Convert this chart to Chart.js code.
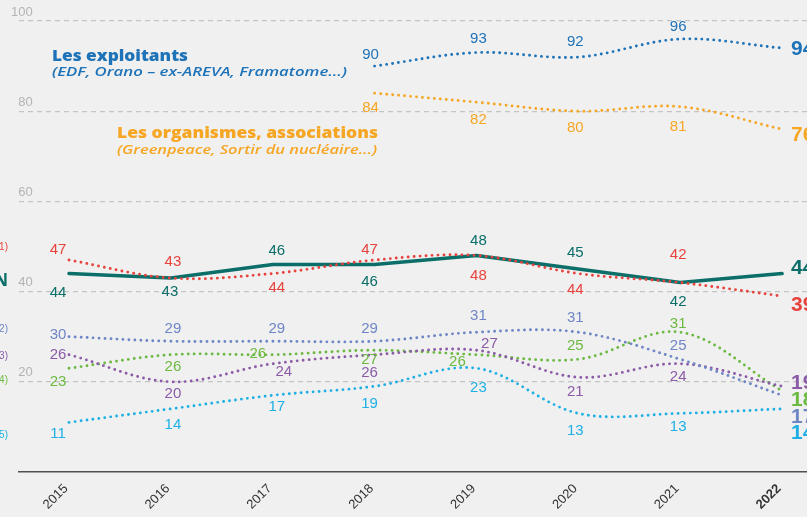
<!DOCTYPE html>
<html><head><meta charset="utf-8">
<script src="https://cdn.jsdelivr.net/npm/chart.js@4.4.0/dist/chart.umd.min.js"></script>
<style>html,body{margin:0;padding:0;background:#f0f0f0;}canvas{display:block;}</style>
</head><body>
<canvas id="c" width="807" height="517"></canvas>
<script>
// ---- data ----
const years = [2015, 2016, 2017, 2018, 2019, 2020, 2021, 2022];
const yTicks = [20, 40, 60, 80, 100];
const exploitants = [null, null, null, 90, 93, 92, 96, 94];
const organismes  = [null, null, null, 84, 82, 80, 81, 76];
const ensemble    = [44, 43, 46, 46, 48, 45, 42, 44];
const serie1      = [47, 43, 44, 47, 48, 44, 42, 39];
const serie2      = [30, 29, 29, 29, 31, 31, 25, 17];
const serie3      = [26, 20, 24, 26, 27, 21, 24, 19];
const serie4      = [23, 26, 26, 27, 26, 25, 31, 18];
const serie5      = [11, 14, 17, 19, 23, 13, 13, 14];

// ---- label placement (dx, dy from the point; last = end label) ----
const exploitantsLbl = [null, null, null, [-4, -11], [2, -14], [-3, -15], [-2, -12], [9, 1.5]];
const organismesLbl  = [null, null, null, [-4, 15], [2, 18], [-3, 17], [-2, 20], [9, 6]];
const ensembleLbl = [[-11, 19], [-1, 14], [4, -14], [-5, 17], [2, -15], [-3, -16], [-2, 19], [9, -5]];
const serie1Lbl   = [[-11, -10], [2, -16], [4, 14], [-5, -10], [2, 20], [-3, 16], [-2, -28], [9, 9]];
const serie2Lbl   = [[-11, -2], [2, -12], [4, -12], [-5, -12], [2, -16], [-3, -14], [-2, -13], [9, 22]];
const serie3Lbl   = [[-11, 0], [2, 12], [11, 8], [-5, 18], [13, -6], [-3, 15], [-2, 13], [9, -3]];
const serie4Lbl   = [[-11, 14], [2, 12], [-15, -1], [-5, 10], [-19, 7], [-3, -13], [-2, -8], [9, 9]];
const serie5Lbl   = [[-11, 11], [2, 16], [4, 12], [-5, 18], [2, 20], [-3, 17], [-2, 13], [9, 24]];

const C = {
  blue: '#1d72b8', orange: '#f6a623', teal: '#0b6e69', red: '#e8423c',
  lav: '#6f86c6', purple: '#8b5ba7', green: '#6cb942', cyan: '#1eb0e5'
};

function pts(arr) { return years.map((y, i) => ({ x: y, y: arr[i] })); }
function ds(label, arr, color, lbl, solid, order) {
  return {
    label, data: pts(arr), raw: arr, borderColor: color, labelOffsets: lbl,
    borderWidth: solid ? 3.6 : 2.9,
    borderDash: solid ? [] : [0, 6],
    borderCapStyle: 'round', borderJoinStyle: 'round',
    tension: solid ? 0 : 0.35,
    pointRadius: 0, pointHoverRadius: 0, fill: false, order
  };
}

const bgPlugin = {
  id: 'bg',
  beforeDraw(chart) {
    const c = chart.ctx; c.save(); c.fillStyle = '#f0f0f0';
    c.fillRect(0, 0, chart.width, chart.height); c.restore();
  }
};

const labelPlugin = {
  id: 'valueLabels',
  afterDatasetsDraw(chart) {
    const c = chart.ctx;
    chart.data.datasets.forEach((d, di) => {
      const meta = chart.getDatasetMeta(di);
      d.raw.forEach((v, i) => {
        if (v == null) return;
        const p = meta.data[i];
        const [dx, dy] = d.labelOffsets[i];
        const last = i === d.raw.length - 1;
        c.save();
        c.fillStyle = d.borderColor;
        c.textBaseline = 'middle';
        if (last) { c.font = 'bold 21px "Liberation Sans", Arial, sans-serif'; c.textAlign = 'left'; }
        else { c.font = '15px "Liberation Sans", Arial, sans-serif'; c.textAlign = 'center'; }
        c.fillText(String(v), p.x + dx, p.y + dy);
        c.restore();
      });
    });
  }
};

function fitText(c, text, x, y, width, font) {
  c.save();
  c.font = font;
  const w = c.measureText(text).width;
  c.translate(x, y);
  c.scale(width / w, 1);
  c.fillText(text, 0, 0);
  c.restore();
}

const textPlugin = {
  id: 'texts',
  afterDraw(chart) {
    const c = chart.ctx;
    c.save();
    c.textBaseline = 'alphabetic'; c.textAlign = 'left';
    c.fillStyle = C.blue;
    fitText(c, 'Les exploitants', 52, 61, 136, '800 15px "Open Sans", sans-serif');
    fitText(c, '(EDF, Orano \u2013 ex-AREVA, Framatome...)', 52, 75.5, 295, 'italic 600 13px "Open Sans", sans-serif');
    c.fillStyle = C.orange;
    fitText(c, 'Les organismes, associations', 117, 138, 261, '800 15px "Open Sans", sans-serif');
    fitText(c, '(Greenpeace, Sortir du nucl\u00e9aire...)', 117, 153.5, 260, 'italic 600 13px "Open Sans", sans-serif');
    // cut-off side labels
    c.textAlign = 'right'; c.textBaseline = 'middle';
    c.font = '10px "Liberation Sans", sans-serif';
    c.fillStyle = C.red; c.fillText('(1)', 8, 247);
    c.fillStyle = C.lav; c.fillText('(2)', 8, 329);
    c.fillStyle = C.purple; c.fillText('(3)', 8, 356);
    c.fillStyle = C.green; c.fillText('(4)', 8, 380);
    c.fillStyle = C.cyan; c.fillText('(5)', 8, 435);
    c.font = 'bold 17px "Open Sans", sans-serif';
    c.fillStyle = C.teal; c.fillText('POPULATION', 8, 281);
    c.restore();
  }
};

new Chart(document.getElementById('c'), {
  type: 'line',
  data: {
    datasets: [
      ds('Les exploitants', exploitants, C.blue, exploitantsLbl, false, 1),
      ds('Les organismes, associations', organismes, C.orange, organismesLbl, false, 2),
      ds('(1)', serie1, C.red, serie1Lbl, false, 3),
      ds('Ensemble', ensemble, C.teal, ensembleLbl, true, 4),
      ds('(2)', serie2, C.lav, serie2Lbl, false, 5),
      ds('(3)', serie3, C.purple, serie3Lbl, false, 6),
      ds('(4)', serie4, C.green, serie4Lbl, false, 7),
      ds('(5)', serie5, C.cyan, serie5Lbl, false, 8)
    ]
  },
  options: {
    responsive: false, animation: false,
    layout: { padding: { left: 19, top: 21, right: 0, bottom: 0 } },
    plugins: { legend: { display: false }, tooltip: { enabled: false } },
    scales: {
      x: {
        type: 'linear', min: 2014.509, max: 2022.245,
        afterBuildTicks: s => { s.ticks = years.map(v => ({ value: v })); },
        afterFit: s => { s.height = 45; },
        grid: { display: false, drawTicks: false },
        border: { display: true, color: '#505050', width: 1.6 },
        ticks: {
          autoSkip: false, minRotation: 45, maxRotation: 45, padding: 9, labelOffset: -3, color: '#333',
          font: c => ({ family: '"Liberation Sans", Arial, sans-serif', size: 13,
            weight: (c.tick && c.tick.value === 2022) ? 'bold' : 'normal' }),
          callback: v => String(v)
        }
      },
      y: {
        min: 0, max: 100,
        afterBuildTicks: s => { s.ticks = yTicks.map(v => ({ value: v })); },
        afterFit: s => { s.width = 0; },
        grid: { color: '#c4c4c4', lineWidth: 1.2, drawTicks: false },
        border: { display: false, dash: [5, 4] },
        ticks: {
          mirror: true, crossAlign: 'far',
          padding: -8, labelOffset: -9, color: '#b3b3b3',
          font: { family: '"Liberation Sans", Arial, sans-serif', size: 13 },
          callback: v => String(v)
        }
      }
    }
  },
  plugins: [bgPlugin, labelPlugin, textPlugin]
});
</script>
</body></html>
